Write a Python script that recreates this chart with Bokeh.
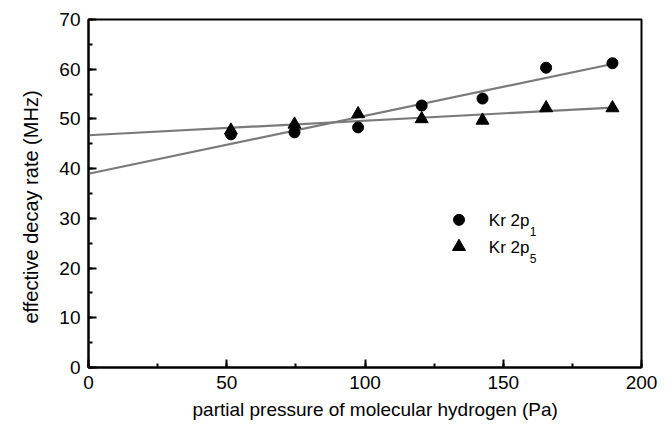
import numpy as np
from bokeh.plotting import figure
from bokeh.models import Range1d, SingleIntervalTicker, ColumnDataSource, Title
from bokeh.core.properties import value
from bokeh.embed import file_html
from bokeh.resources import INLINE

# ---- data ----
pressure = [51.5, 74.5, 97.5, 120.5, 142.5, 165.5, 189.5]
kr_2p1 = [46.9, 47.3, 48.3, 52.7, 54.1, 60.3, 61.2]
kr_2p5 = [47.7, 48.9, 51.0, 50.0, 49.7, 52.2, 52.2]
series_names = ["Kr 2p", "Kr 2p"]
series_subs = ["1", "5"]
x_ticks_interval = 50
y_ticks_interval = 10
x_title = "partial pressure of molecular hydrogen (Pa)"
y_title = "effective decay rate (MHz)"

FONT = "Liberation Sans"

p = figure(width=670, height=434, output_backend="svg", toolbar_location=None,
           x_range=Range1d(0, 200), y_range=Range1d(0, 70),
           min_border_left=88, min_border_right=29, min_border_top=19, min_border_bottom=67)
p.grid.visible = False
p.background_fill_color = "white"
p.border_fill_color = "white"
p.outline_line_color = "black"
p.outline_line_width = 2
p.outline_line_alpha = 1

# linear fits
x_fit = np.array([0, max(pressure)])
for ys in (kr_2p1, kr_2p5):
    k, b = np.polyfit(pressure, ys, 1)
    p.line(x_fit, k * x_fit + b, line_color="#7a7a7a", line_width=2.2)

src = ColumnDataSource(dict(x=pressure, y1=kr_2p1, y5=kr_2p5))
p.scatter("x", "y5", source=src, marker="triangle", size=13, fill_color="black", line_color="black")
p.scatter("x", "y1", source=src, marker="circle", size=11, fill_color="black", line_color="black")

# legend (inside the plot)
leg_x = [134, 134]
leg_y = [29.7, 24.3]
leg_text_x = 144.8
p.scatter([leg_x[0]], [leg_y[0]], marker="circle", size=11, fill_color="black", line_color="black")
p.scatter([leg_x[1]], [leg_y[1]], marker="triangle", size=13, fill_color="black", line_color="black")
p.text([leg_text_x] * 2, leg_y, text=series_names, text_font=value(FONT), text_font_size="17px",
       text_baseline="middle", text_align="left", text_color="black", y_offset=1)
p.text([leg_text_x] * 2, leg_y, text=series_subs, text_font=value(FONT), text_font_size="12px",
       text_baseline="middle", text_align="left", text_color="black", x_offset=41, y_offset=12)

for ax, interval in ((p.xaxis, x_ticks_interval), (p.yaxis, y_ticks_interval)):
    ax.ticker = SingleIntervalTicker(interval=interval, num_minor_ticks=2)
    ax.axis_line_color = "black"
    ax.axis_line_width = 2
    ax.major_tick_line_color = "black"
    ax.major_tick_line_width = 2
    ax.minor_tick_line_color = "black"
    ax.minor_tick_line_width = 2
    ax.major_tick_in = 8
    ax.major_tick_out = 0
    ax.minor_tick_in = 4
    ax.minor_tick_out = 0
    ax.major_label_text_font = FONT
    ax.major_label_text_font_size = "19px"
    ax.major_label_text_color = "black"
    ax.major_label_standoff = 8

# axis titles as side titles (allows the slight offsets seen in the reference)
p.add_layout(Title(text=x_title, align="left", offset=104, standoff=10,
                   text_font=FONT, text_font_size="19px", text_font_style="normal",
                   text_color="black"), "below")
p.add_layout(Title(text=y_title, align="left", offset=44, standoff=30,
                   text_font=FONT, text_font_size="20px", text_font_style="normal",
                   text_color="black"), "left")

open("out.html", "w").write(file_html(p, INLINE))
